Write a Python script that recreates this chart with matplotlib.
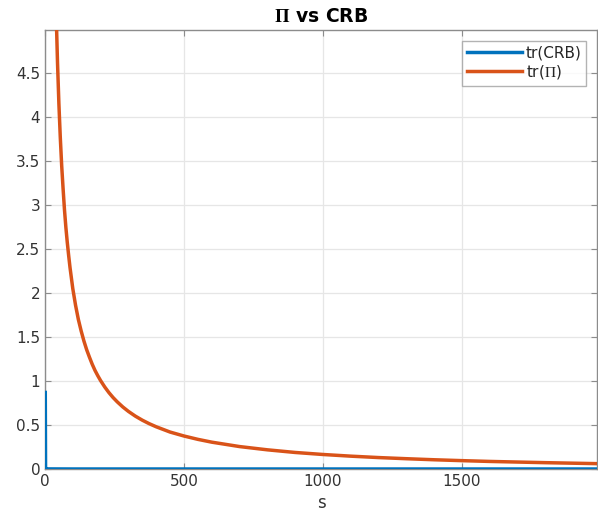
import matplotlib
matplotlib.use("Agg")
import matplotlib.pyplot as plt

# data
s_pi = [30, 35, 40, 45, 50, 55, 60, 65, 70, 75, 80, 85, 90, 95, 100, 110, 120, 130, 140,
        150, 160, 170, 180, 190, 200, 215, 230, 245, 260, 280, 300, 325, 350, 375, 400,
        450, 500, 550, 600, 700, 800, 900, 1000, 1100, 1200, 1300, 1400, 1500, 1600,
        1700, 1800, 1900, 2000]
tr_pi = [6.95, 5.95, 5.2, 4.62, 4.15, 3.77, 3.45, 3.19, 2.95, 2.75, 2.58, 2.43, 2.29,
         2.17, 2.05, 1.86, 1.70, 1.57, 1.455, 1.355, 1.27, 1.19, 1.12, 1.06, 1.005,
         0.932, 0.868, 0.812, 0.763, 0.705, 0.655, 0.601, 0.555, 0.515, 0.48, 0.42,
         0.375, 0.337, 0.305, 0.255, 0.218, 0.188, 0.165, 0.146, 0.13, 0.117, 0.105,
         0.095, 0.086, 0.079, 0.072, 0.066, 0.06]
s_crb = [1, 2, 5, 10, 100, 1000, 2000]
tr_crb = [0.87, 0.004, 0.002, 0.001, 0.0001, 0.00001, 0.000005]

xticks = [0, 500, 1000, 1500]
yticks = [0, 0.5, 1, 1.5, 2, 2.5, 3, 3.5, 4, 4.5]

plt.rcParams['mathtext.fontset'] = 'stix'
plt.rcParams['font.family'] = 'DejaVu Sans'

fig = plt.figure(figsize=(5.98, 5.2), dpi=100)
W, H = 598, 520
ax = fig.add_axes([45 / W, (H - 469) / H, (597 - 45) / W, (469 - 30) / H])

blue = '#0072BD'
orange = '#D95319'
ax.plot(s_crb, tr_crb, color=blue, lw=2.5, label='tr(CRB)', zorder=3)
ax.plot(s_pi, tr_pi, color=orange, lw=2.5, label=r'tr($\Pi$)', zorder=3)

ax.set_xlim(0, 1986)
ax.set_ylim(0, 4.99)
ax.set_xticks(xticks)
ax.set_xticklabels([str(v) for v in xticks])
ax.set_yticks(yticks)
ax.set_yticklabels(['0', '0.5', '1', '1.5', '2', '2.5', '3', '3.5', '4', '4.5'])

ax.grid(True, color='#e6e6e6', lw=0.9)
ax.set_axisbelow(True)
for sp in ax.spines.values():
    sp.set_color('#8c8c8c')
    sp.set_linewidth(1.0)
ax.tick_params(direction='in', length=4, color='#8c8c8c', labelcolor='#333333',
               labelsize=11, top=True, right=True)
ax.set_xlabel('s', fontsize=12, color='#333333')
ax.set_title(r'$\mathbf{\Pi}$ vs CRB', fontsize=13.5, fontweight='bold', color='#000000')

leg = ax.legend(loc='upper right', fontsize=11, frameon=True, fancybox=False,
                edgecolor='#a0a0a0', handlelength=3.6, borderaxespad=0.7,
                handletextpad=0.25, labelspacing=0.2, borderpad=0.3)
leg.get_frame().set_linewidth(1.0)
for t in leg.get_texts():
    t.set_color('#262626')

fig.savefig('out.png', dpi=100)
